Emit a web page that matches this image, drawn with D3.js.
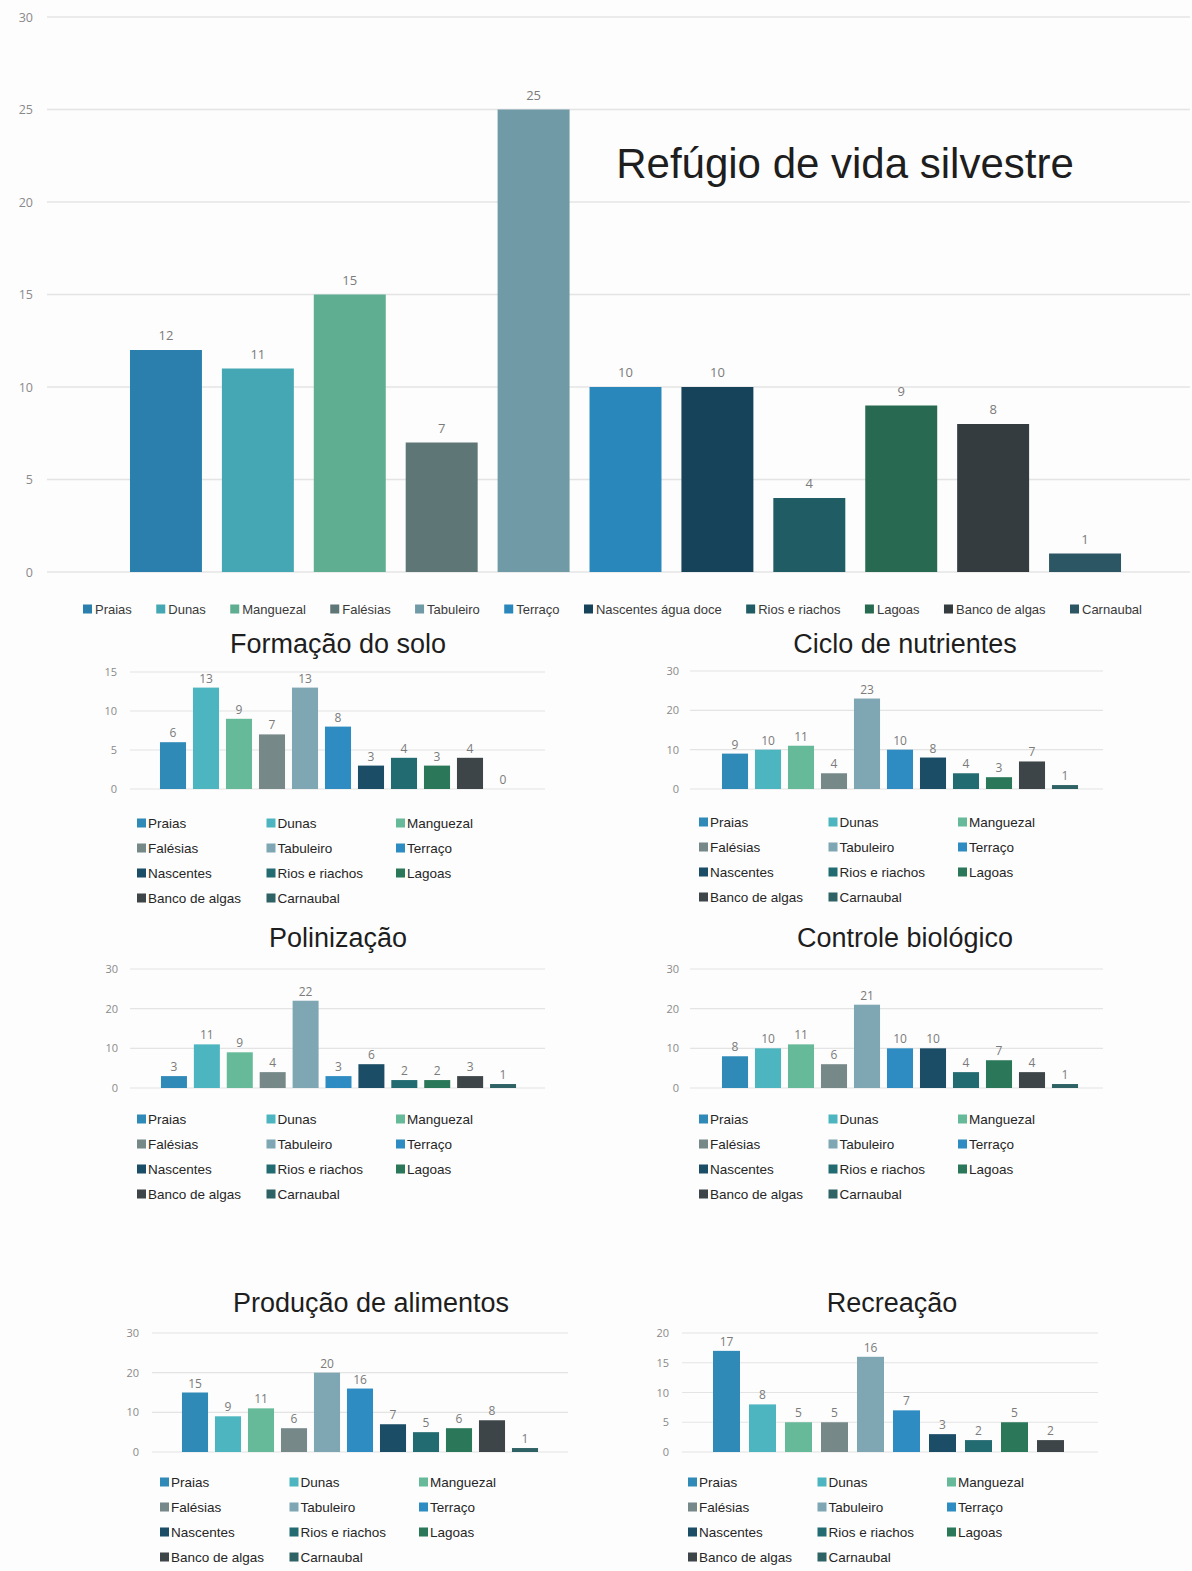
<!DOCTYPE html>
<html>
<head>
<meta charset="utf-8">
<script src="https://cdn.jsdelivr.net/npm/d3@7"></script>
<style>
  html, body { margin: 0; padding: 0; background: #fdfdfd; }
  svg { display: block; font-family: "Liberation Sans", Arial, sans-serif; }
</style>
</head>
<body>
<svg id="chart" width="1192" height="1571"></svg>
<script>
// Habitat categories shared by every panel
const categories = ["Praias", "Dunas", "Manguezal", "Falésias", "Tabuleiro", "Terraço",
  "Nascentes", "Rios e riachos", "Lagoas", "Banco de algas", "Carnaubal"];
const legendNamesMain = ["Praias", "Dunas", "Manguezal", "Falésias", "Tabuleiro", "Terraço",
  "Nascentes água doce", "Rios e riachos", "Lagoas", "Banco de algas", "Carnaubal"];
const legendNamesSmall = categories;

const mainColors = ["#2a7fad", "#45a7b3", "#5fae91", "#5f7677", "#6f9aa6", "#2a87bc",
  "#17435a", "#1f5c63", "#276a51", "#343c3f", "#2d5664"];
const smallColors = ["#2f8ab8", "#4db5bf", "#66b999", "#778889", "#7fa6b3", "#2e8cc2",
  "#1b4d67", "#226b70", "#2b775a", "#3e4548", "#2f6265"];

// Counts per ecosystem service
const refugioValues     = [12, 11, 15, 7, 25, 10, 10, 4, 9, 8, 1];
const formacaoValues    = [6, 13, 9, 7, 13, 8, 3, 4, 3, 4, 0];
const cicloValues       = [9, 10, 11, 4, 23, 10, 8, 4, 3, 7, 1];
const polinizacaoValues = [3, 11, 9, 4, 22, 3, 6, 2, 2, 3, 1];
const controleValues    = [8, 10, 11, 6, 21, 10, 10, 4, 7, 4, 1];
const producaoValues    = [15, 9, 11, 6, 20, 16, 7, 5, 6, 8, 1];
const recreacaoValues   = [17, 8, 5, 5, 16, 7, 3, 2, 5, 2];

// Tick values
const mainTicks = [0, 5, 10, 15, 20, 25, 30];
const formacaoTicks = [0, 5, 10, 15];
const tensTicks = [0, 10, 20, 30];
const recreacaoTicks = [0, 5, 10, 15, 20];

const svg = d3.select("#chart");

function drawPanel(cfg) {
  const g = svg.append("g");
  const cats = categories.slice(0, cfg.values.length);
  const x = d3.scaleBand().domain(cats).range(cfg.band)
    .paddingInner(cfg.pad).paddingOuter(cfg.pad / 2);
  const y = d3.scaleLinear().domain([0, d3.max(cfg.ticks)]).range([cfg.y0, cfg.y1]);

  // gridlines
  g.append("g").selectAll("line").data(cfg.ticks).join("line")
    .attr("x1", cfg.grid[0]).attr("x2", cfg.grid[1])
    .attr("y1", d => y(d)).attr("y2", d => y(d))
    .attr("stroke", "#e4e4e4").attr("stroke-width", cfg.gridW || 1.2);

  // y axis labels
  const axis = d3.axisLeft(y).tickValues(cfg.ticks).tickSize(0).tickPadding(0);
  const ax = g.append("g").attr("transform", `translate(${cfg.labelX},0)`).call(axis);
  ax.select(".domain").remove();
  ax.selectAll("text").attr("fill", "#8a8a8a").style("font-size", cfg.tickSize + "px")
    .style("font-family", "'Open Sans', 'Liberation Sans', sans-serif");

  // bars
  g.append("g").selectAll("rect").data(cfg.values).join("rect")
    .attr("x", (d, i) => x(cats[i]))
    .attr("width", x.bandwidth())
    .attr("y", d => y(d))
    .attr("height", d => y(0) - y(d))
    .attr("fill", (d, i) => cfg.colors[i]);

  // value labels
  g.append("g").selectAll("text").data(cfg.values).join("text")
    .attr("x", (d, i) => x(cats[i]) + x.bandwidth() / 2)
    .attr("y", d => y(d) - cfg.labelGap)
    .attr("text-anchor", "middle")
    .attr("fill", "#7b7b7b")
    .style("font-size", cfg.valueSize + "px")
    .style("font-family", "'Open Sans', 'Liberation Sans', sans-serif")
    .text(d => d);

  // title
  g.append("text")
    .attr("x", cfg.title.x).attr("y", cfg.title.y)
    .attr("text-anchor", "middle")
    .attr("fill", "#1e1e1e")
    .style("font-size", cfg.title.size + "px")
    .text(cfg.title.text);

  // legend
  if (cfg.legend) {
    const L = cfg.legend;
    const items = g.append("g").selectAll("g").data(legendNamesSmall).join("g")
      .attr("transform", (d, i) =>
        `translate(${L.x + (i % 3) * L.colW},${L.y + Math.floor(i / 3) * L.rowH})`);
    items.append("rect").attr("x", 0).attr("y", -4.5).attr("width", 9).attr("height", 9)
      .attr("fill", (d, i) => cfg.colors[i]);
    items.append("text").attr("x", 11).attr("y", 4.8)
      .attr("fill", "#262626").style("font-size", "13.5px").text(d => d);
  }
}

// Main chart: Refúgio de vida silvestre
drawPanel({
  values: refugioValues, ticks: mainTicks, colors: mainColors,
  band: [120, 1131], pad: 0.217, y0: 572, y1: 17, grid: [47, 1190], gridW: 1.6,
  labelX: 33, tickSize: 12.5, valueSize: 13, labelGap: 10,
  title: { text: "Refúgio de vida silvestre", x: 845, y: 178, size: 42 }
});

// Main legend, single row spread across the plot width
(function () {
  const g = svg.append("g");
  const items = g.selectAll("g").data(legendNamesMain).join("g");
  items.append("rect").attr("y", -4.5).attr("width", 9).attr("height", 9)
    .attr("fill", (d, i) => mainColors[i]);
  const texts = items.append("text").attr("x", 12).attr("y", 4.5)
    .attr("fill", "#3a3a3a").style("font-size", "13px").text(d => d);
  const widths = texts.nodes().map(n => 12 + n.getComputedTextLength());
  const start = 83, end = 1142;
  const gap = (end - start - d3.sum(widths)) / (widths.length - 1);
  let cx = start;
  items.attr("transform", (d, i) => {
    const t = `translate(${cx},609)`;
    cx += widths[i] + gap;
    return t;
  });
})();

const smallPanels = [
  { values: formacaoValues, ticks: formacaoTicks, band: [156.5, 519.5], y0: 789, y1: 672,
    grid: [130, 545], labelX: 117,
    title: { text: "Formação do solo", x: 338, y: 653 }, legend: { x: 137, y: 823 } },
  { values: cicloValues, ticks: tensTicks, band: [718.5, 1081.5], y0: 789, y1: 671,
    grid: [690, 1103], labelX: 679,
    title: { text: "Ciclo de nutrientes", x: 905, y: 653 }, legend: { x: 699, y: 822 } },
  { values: polinizacaoValues, ticks: tensTicks, band: [157.5, 519.5], y0: 1088, y1: 969,
    grid: [130, 545], labelX: 118,
    title: { text: "Polinização", x: 338, y: 947 }, legend: { x: 137, y: 1119 } },
  { values: controleValues, ticks: tensTicks, band: [718.5, 1081.5], y0: 1088, y1: 969,
    grid: [690, 1103], labelX: 679,
    title: { text: "Controle biológico", x: 905, y: 947 }, legend: { x: 699, y: 1119 } },
  { values: producaoValues, ticks: tensTicks, band: [178.5, 541.5], y0: 1452, y1: 1333,
    grid: [152, 568], labelX: 139,
    title: { text: "Produção de alimentos", x: 371, y: 1312 }, legend: { x: 160, y: 1482 } },
  { values: recreacaoValues, ticks: recreacaoTicks, band: [708.5, 1068.5], y0: 1452, y1: 1333,
    grid: [682, 1098], labelX: 669, pad: 0.25,
    title: { text: "Recreação", x: 892, y: 1312 }, legend: { x: 688, y: 1482 } }
];

smallPanels.forEach(p => drawPanel(Object.assign({
  colors: smallColors, pad: 0.21, tickSize: 11, valueSize: 12, labelGap: 5
}, p, {
  title: Object.assign({ size: 27 }, p.title),
  legend: Object.assign({ colW: 129.5, rowH: 25 }, p.legend)
})));
</script>
</body>
</html>
